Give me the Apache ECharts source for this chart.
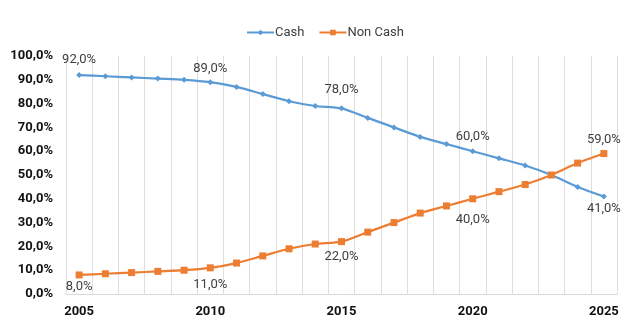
<!DOCTYPE html>
<html>
<head>
<meta charset="utf-8">
<script src="https://cdn.jsdelivr.net/npm/echarts@6/dist/echarts.min.js"></script>
<style>
  html, body { margin: 0; padding: 0; background: #fff; }
  #chart { width: 630px; height: 324px; }
</style>
</head>
<body>
<div id="chart"></div>
<script>
// Years on the category axis
const years = ['2005','2006','2007','2008','2009','2010','2011','2012','2013','2014','2015',
               '2016','2017','2018','2019','2020','2021','2022','2023','2024','2025'];

// Share of payments, percent
const cash    = [92, 91.5, 91, 90.5, 90, 89, 87, 84, 81, 79, 78, 74, 70, 66, 63, 60, 57, 54, 50, 45, 41];
const nonCash = [8, 8.5, 9, 9.5, 10, 11, 13, 16, 19, 21, 22, 26, 30, 34, 37, 40, 43, 46, 50, 55, 59];

// Years whose values carry a label
const labelledYears = ['2005', '2010', '2015', '2020', '2025'];

// Label placement per labelled year: [position, distance]
const cashLabelPlace = {
  '2005': ['top', 6], '2010': ['top', 4], '2015': ['top', 9], '2020': ['top', 5], '2025': ['bottom', 3]
};
const nonCashLabelPlace = {
  '2005': ['bottom', 2], '2010': ['bottom', 7], '2015': ['bottom', 5], '2020': ['bottom', 11], '2025': ['top', 4]
};

const fmt = v => v.toFixed(1).replace('.', ',') + '%';

function withLabels(values, place) {
  return values.map((v, i) => {
    const y = years[i];
    if (!labelledYears.includes(y)) return { value: v, label: { show: false } };
    return {
      value: v,
      label: { show: true, position: place[y][0], distance: place[y][1] }
    };
  });
}

const chart = echarts.init(document.getElementById('chart'), null, { renderer: 'canvas' });

const labelStyle = {
  formatter: p => fmt(p.value),
  color: '#404040',
  fontFamily: 'Roboto',
  fontSize: 13
};

chart.setOption({
  animation: false,
  legend: {
    top: 21,
    left: 241,
    itemWidth: 27,
    itemHeight: 7,
    itemGap: 14,
    textStyle: { fontFamily: 'Roboto', fontSize: 13, color: '#404040', padding: [0, 0, 0, -4] },
    data: ['Cash', 'Non Cash']
  },
  grid: { left: 66, right: 13, top: 56, bottom: 30 },
  xAxis: {
    type: 'category',
    data: years,
    boundaryGap: true,
    axisLine: { lineStyle: { color: '#d9d9d9', width: 1 } },
    axisTick: { show: false },
    axisLabel: {
      interval: 4,
      margin: 11,
      color: '#111',
      fontFamily: 'Roboto',
      fontWeight: 'bold',
      fontSize: 13
    },
    splitLine: { show: true, interval: 0, lineStyle: { color: '#dedede', width: 1 } }
  },
  yAxis: {
    type: 'value',
    min: 0,
    max: 100,
    interval: 10,
    axisLine: { show: false },
    axisTick: { show: false },
    splitLine: { show: false },
    axisLabel: {
      margin: 13,
      color: '#111',
      fontFamily: 'Roboto',
      fontWeight: 'bold',
      fontSize: 13,
      formatter: v => fmt(v)
    }
  },
  series: [
    {
      name: 'Cash',
      type: 'line',
      smooth: 0.25,
      data: withLabels(cash, cashLabelPlace),
      symbol: 'diamond',
      symbolSize: 6,
      itemStyle: { color: '#5b9bd5' },
      lineStyle: { color: '#5b9bd5', width: 2.2 },
      label: labelStyle
    },
    {
      name: 'Non Cash',
      type: 'line',
      smooth: 0.25,
      data: withLabels(nonCash, nonCashLabelPlace),
      symbol: 'rect',
      symbolSize: 7,
      itemStyle: { color: '#ed7d31' },
      lineStyle: { color: '#ed7d31', width: 2.2 },
      label: labelStyle
    }
  ]
});
</script>
</body>
</html>
